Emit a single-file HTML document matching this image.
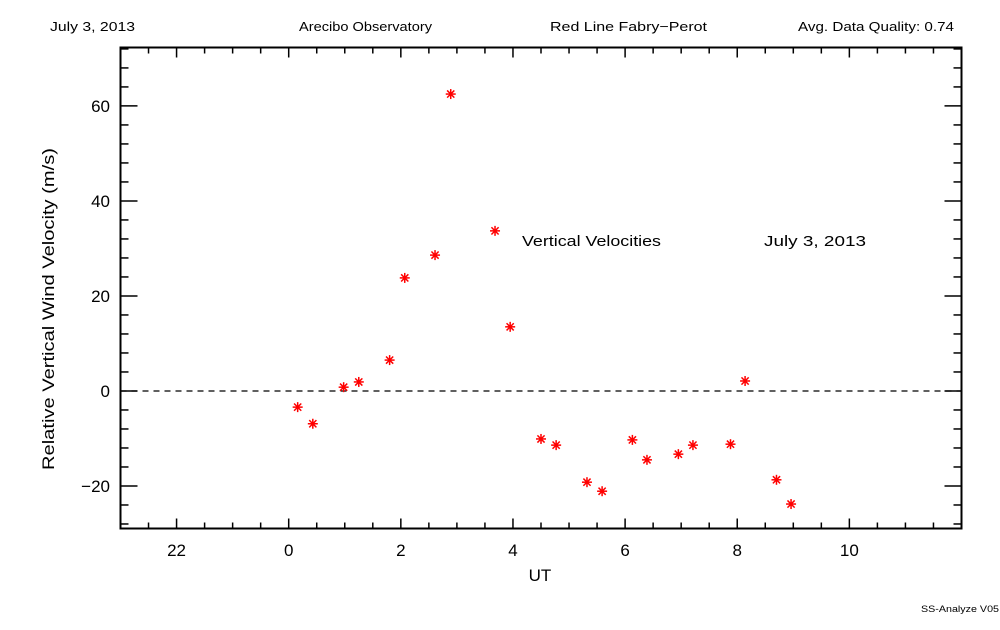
<!DOCTYPE html>
<html><head><meta charset="utf-8">
<style>
body{margin:0;background:#fff;}
svg text{font-family:"Liberation Sans",sans-serif;fill:#000;}
</style></head>
<body>
<svg id="chart" width="1000" height="625" xmlns="http://www.w3.org/2000/svg">
<text x="50" y="31" font-size="13" textLength="85" lengthAdjust="spacingAndGlyphs">July 3, 2013</text>
<text x="299" y="31" font-size="13" textLength="133" lengthAdjust="spacingAndGlyphs">Arecibo Observatory</text>
<text x="550" y="31" font-size="13" textLength="157" lengthAdjust="spacingAndGlyphs">Red Line Fabry−Perot</text>
<text x="798" y="31" font-size="13" textLength="156" lengthAdjust="spacingAndGlyphs">Avg. Data Quality: 0.74</text>
<rect x="120.5" y="47.5" width="841" height="481" fill="none" stroke="#000" stroke-width="2"/>
<g id="ticks"></g>
<line id="zero" stroke="#000" stroke-dasharray="6,5" stroke-width="1.3"/>
<g id="points"></g>
<text x="522" y="246" font-size="15" textLength="139" lengthAdjust="spacingAndGlyphs">Vertical Velocities</text>
<text x="764" y="246" font-size="15" textLength="102" lengthAdjust="spacingAndGlyphs">July 3, 2013</text>
<text x="540" y="581" font-size="17" text-anchor="middle">UT</text>
<text transform="translate(54,309) rotate(-90)" font-size="17" text-anchor="middle" textLength="322" lengthAdjust="spacingAndGlyphs">Relative Vertical Wind Velocity (m/s)</text>
<text x="921" y="612" font-size="9" textLength="78" lengthAdjust="spacingAndGlyphs">SS-Analyze V05</text>
</svg>
<script>
const xs=[0.16,0.43,0.98,1.25,1.80,2.07,2.61,2.89,3.68,3.95,4.50,4.77,5.32,5.59,6.13,6.39,6.95,7.21,7.88,8.14,8.70,8.96];
const vs=[-3.4,-6.9,0.8,1.9,6.5,23.8,28.6,62.5,33.7,13.5,-10.1,-11.4,-19.2,-21.1,-10.3,-14.5,-13.3,-11.4,-11.2,2.1,-18.7,-23.8];
const xTickVals=[-2,0,2,4,6,8,10];
const xTickLabels=["22","0","2","4","6","8","10"];
const yTickVals=[-20,0,20,40,60];
const yTickLabels=["−20","0","20","40","60"];
const X0=-3,X1=12,Y0=-28.95,Y1=72.3;
const L=120.5,R=961.5,T=47.5,B=528.5;
const sx=v=>L+(v-X0)/(X1-X0)*(R-L);
const sy=v=>B-(v-Y0)/(Y1-Y0)*(B-T);
const NS="http://www.w3.org/2000/svg";
function mk(tag,at){const e=document.createElementNS(NS,tag);for(const k in at)e.setAttribute(k,at[k]);return e;}
const tg=document.getElementById('ticks');
function ln(x1,y1,x2,y2,w){const e=mk('line',{x1,y1,x2,y2,stroke:'#000','stroke-width':w||1.5});


tg.appendChild(e);}
for(let v=X0;v<=X1+1e-9;v+=0.5){const x=sx(v);const maj=Math.abs(v%2)<1e-9;const len=maj?10:6;
ln(x,B,x,B-len);ln(x,T,x,T+len);}
for(let v=-28;v<=72;v+=4){const y=sy(v);const maj=v%20===0;const len=maj?17:8;
ln(L,y,L+len,y);ln(R,y,R-len,y);}
xTickVals.forEach((v,i)=>{const t=mk('text',{x:sx(v),y:556,'font-size':17,'text-anchor':'middle'});


t.textContent=xTickLabels[i];tg.appendChild(t);});
yTickVals.forEach((v,i)=>{const t=mk('text',{x:110,y:sy(v)+6,'font-size':17,'text-anchor':'end'});


t.textContent=yTickLabels[i];tg.appendChild(t);});
const z=document.getElementById('zero');
z.setAttribute('x1',L);z.setAttribute('x2',R);z.setAttribute('y1',sy(0));z.setAttribute('y2',sy(0));
const pg=document.getElementById('points');
xs.forEach((xv,i)=>{const cx=sx(xv),cy=sy(vs[i]);const g=mk('g',{stroke:'#f00','stroke-width':1.5});


const r=5;
g.appendChild(mk('line',{x1:cx-r,y1:cy,x2:cx+r,y2:cy}));
g.appendChild(mk('line',{x1:cx,y1:cy-r,x2:cx,y2:cy+r}));
g.appendChild(mk('line',{x1:cx-3.6,y1:cy-3.6,x2:cx+3.6,y2:cy+3.6}));
g.appendChild(mk('line',{x1:cx-3.6,y1:cy+3.6,x2:cx+3.6,y2:cy-3.6}));
g.appendChild(mk('circle',{cx,cy,r:1.8,fill:'#f00',stroke:'none'}));
pg.appendChild(g);});
</script>
</body></html>
